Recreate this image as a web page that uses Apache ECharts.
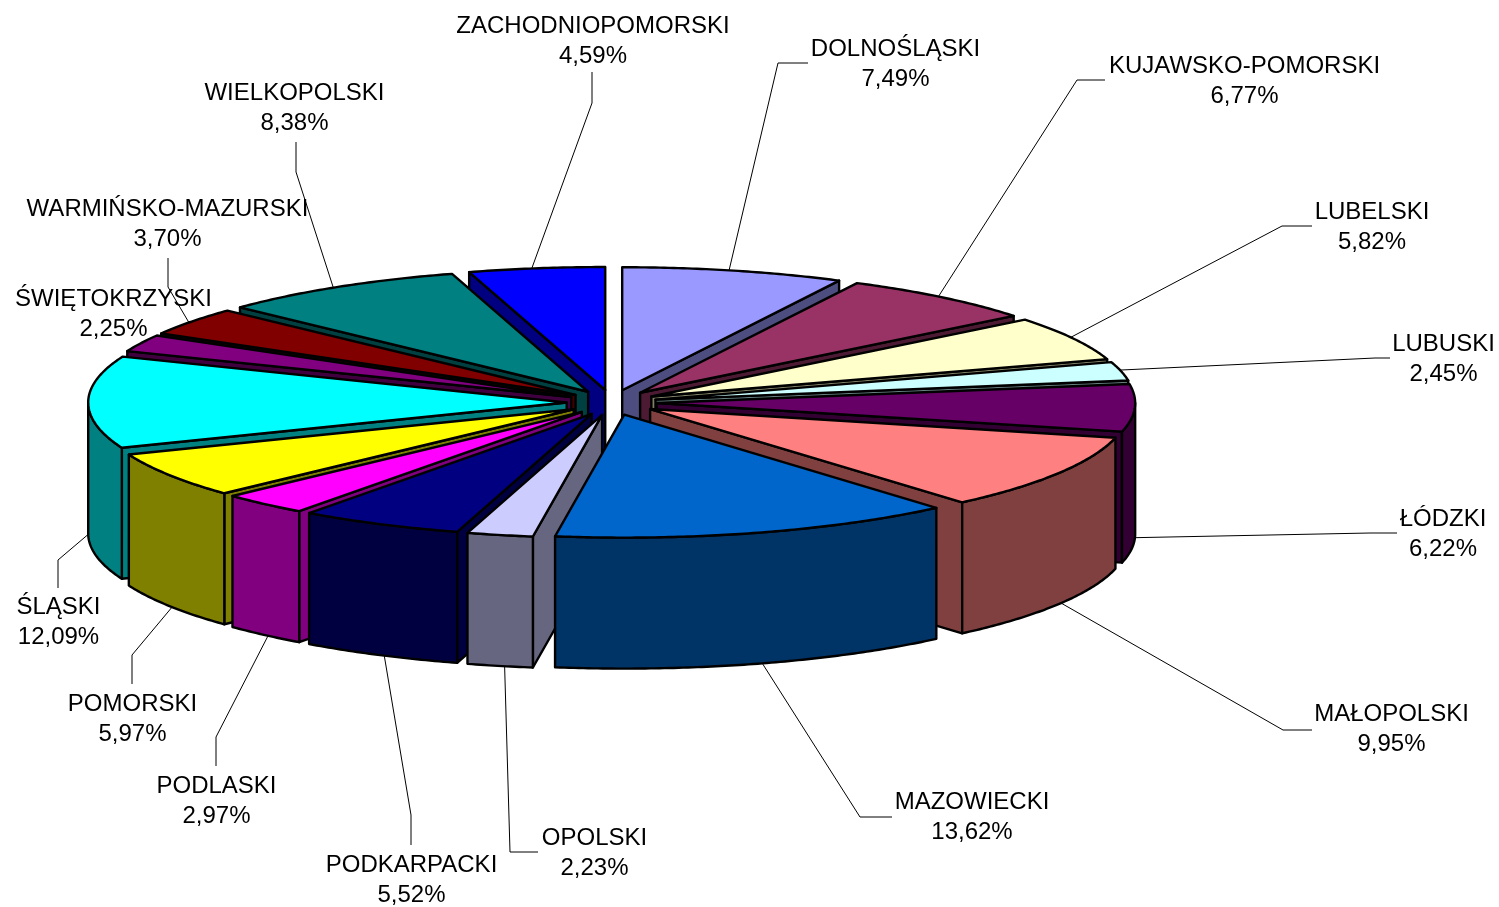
<!DOCTYPE html>
<html>
<head>
<meta charset="utf-8">
<style>html,body{margin:0;padding:0;background:#fff}#c{width:1499px;height:907px}</style>
<script src="https://cdn.jsdelivr.net/npm/echarts@6/dist/echarts.min.js"></script>
</head>
<body>
<div id="c"></div>
<script>
const regions = ['DOLNOŚLĄSKI','KUJAWSKO-POMORSKI','LUBELSKI','LUBUSKI','ŁÓDZKI','MAŁOPOLSKI','MAZOWIECKI','OPOLSKI','PODKARPACKI','PODLASKI','POMORSKI','ŚLĄSKI','ŚWIĘTOKRZYSKI','WARMIŃSKO-MAZURSKI','WIELKOPOLSKI','ZACHODNIOPOMORSKI'];
const shares = [7.49,6.77,5.82,2.45,6.22,9.95,13.62,2.23,5.52,2.97,5.97,12.09,2.25,3.70,8.38,4.59];
const topColors = ['#9999FF','#993366','#FFFFCC','#CCFFFF','#660066','#FF8080','#0066CC','#CCCCFF','#000080','#FF00FF','#FFFF00','#00FFFF','#800080','#800000','#008080','#0000FF'];
const sideColors = ['#4D4D80','#4D1A33','#808066','#668080','#330033','#804040','#003366','#666680','#000040','#800080','#808000','#008080','#400040','#400000','#004040','#000080'];

// Layout only: label centres and leader-line elbows (label side).
const labelCenters = [[895.5,64],[1244.5,81],[1372,227],[1443.5,359],[1443,534],[1391.5,729],[972,817],[594.5,853],[411.5,880],[216.5,801],[132.5,719],[58.5,622],[113.5,314],[167.5,224],[294.5,108],[593,41]];
const leaderPaths = [[[778,63],[808,63]],[[1077,80],[1105,80]],[[1282,226],[1312,226]],[[1375,358],[1390,358]],[[1370,533],[1397,533]],[[1283,730],[1312,730]],[[860,817],[892,817]],[[510,852],[538,852]],[[411,815],[411,845]],[[216,737],[216,766]],[[132,655],[132,684]],[[58,560],[58,588]],null,[[168,287],[168,258]],[[296,172],[296,142]],[[592,103],[592,72]]];

const CX = 611.7, CY = 402.5, RX = 478.5, RY = 123, DEPTH = 131, EX = 45, EY = 12.6, ANCHOR_SHIFT = 0.01;
const total = shares.reduce((a, b) => a + b, 0);
const slices = [];
let running = 0;
shares.forEach((v, i) => {
  const a0 = echarts.number.linearMap(running, [0, total], [0, Math.PI * 2]);
  running += v;
  const a1 = echarts.number.linearMap(running, [0, total], [0, Math.PI * 2]);
  const mid = (a0 + a1) / 2;
  slices.push({ i, a0, a1, mid, ax: CX + EX * Math.sin(mid), ay: CY - EY * Math.cos(mid) });
});
const rim = (s, a, dy) => [s.ax + RX * Math.sin(a), s.ay - RY * Math.cos(a) + (dy || 0)];
const arc = (s, a0, a1, dy) => {
  const n = Math.max(2, Math.ceil((a1 - a0) / 0.01)), pts = [];
  for (let k = 0; k <= n; k++) pts.push(rim(s, a0 + (a1 - a0) * k / n, dy));
  return pts;
};
// Painter's order: the slice whose nearest point is lowest on screen is drawn last.
const nearestY = s => (s.a0 <= Math.PI && s.a1 >= Math.PI) ? s.ay + RY : Math.max(s.ay, rim(s, s.a0)[1], rim(s, s.a1)[1]);
const order = slices.slice().sort((p, q) => nearestY(p) - nearestY(q)).map(s => s.i);

function face(points, fill) {
  return { type: 'polygon', shape: { points }, style: { fill, stroke: '#000', lineWidth: 2.4, lineJoin: 'round' } };
}
function renderSlice(params, api) {
  const s = slices[api.value(0)];
  const side = sideColors[s.i], children = [];
  const apex = [s.ax, s.ay], apexLow = [s.ax, s.ay + DEPTH];
  if (Math.sin(s.a0) < 0) children.push(face([apex, rim(s, s.a0), rim(s, s.a0, DEPTH), apexLow], side));
  if (Math.sin(s.a1) > 0) children.push(face([apex, rim(s, s.a1), rim(s, s.a1, DEPTH), apexLow], side));
  const w0 = Math.max(s.a0, Math.PI / 2), w1 = Math.min(s.a1, Math.PI * 1.5);
  if (w1 > w0) children.push(face(arc(s, w0, w1).concat(arc(s, w0, w1, DEPTH).reverse()), side));
  children.push(face([apex].concat(arc(s, s.a0, s.a1)), topColors[s.i]));
  return { type: 'group', children };
}
function renderLabel(params, api) {
  const i = api.value(0), s = slices[i], children = [];
  const path = leaderPaths[i];
  if (path) {
    const anchor = rim(s, s.mid - ANCHOR_SHIFT, Math.cos(s.mid) < 0.05 ? DEPTH : 0);
    children.push({ type: 'polyline', shape: { points: [anchor].concat(path) }, style: { fill: null, stroke: '#000', lineWidth: 1 } });
  }
  const c = labelCenters[i];
  children.push({ type: 'text', style: {
    x: c[0], y: c[1], text: regions[i] + '\n' + shares[i].toFixed(2).replace('.', ',') + '%',
    align: 'center', verticalAlign: 'middle', fill: '#000', lineHeight: 30,
    font: '24px "Liberation Sans", Arial, sans-serif' } });
  return { type: 'group', children };
}
const chart = echarts.init(document.getElementById('c'));
chart.setOption({
  backgroundColor: '#fff',
  animation: false,
  series: [
    { type: 'custom', coordinateSystem: 'none', silent: true, z: 2, renderItem: renderSlice, data: order.map(i => [i, shares[i]]) },
    { type: 'custom', coordinateSystem: 'none', silent: true, z: 3, renderItem: renderLabel, data: regions.map((n, i) => [i, shares[i]]) }
  ]
});
</script>
</body>
</html>
